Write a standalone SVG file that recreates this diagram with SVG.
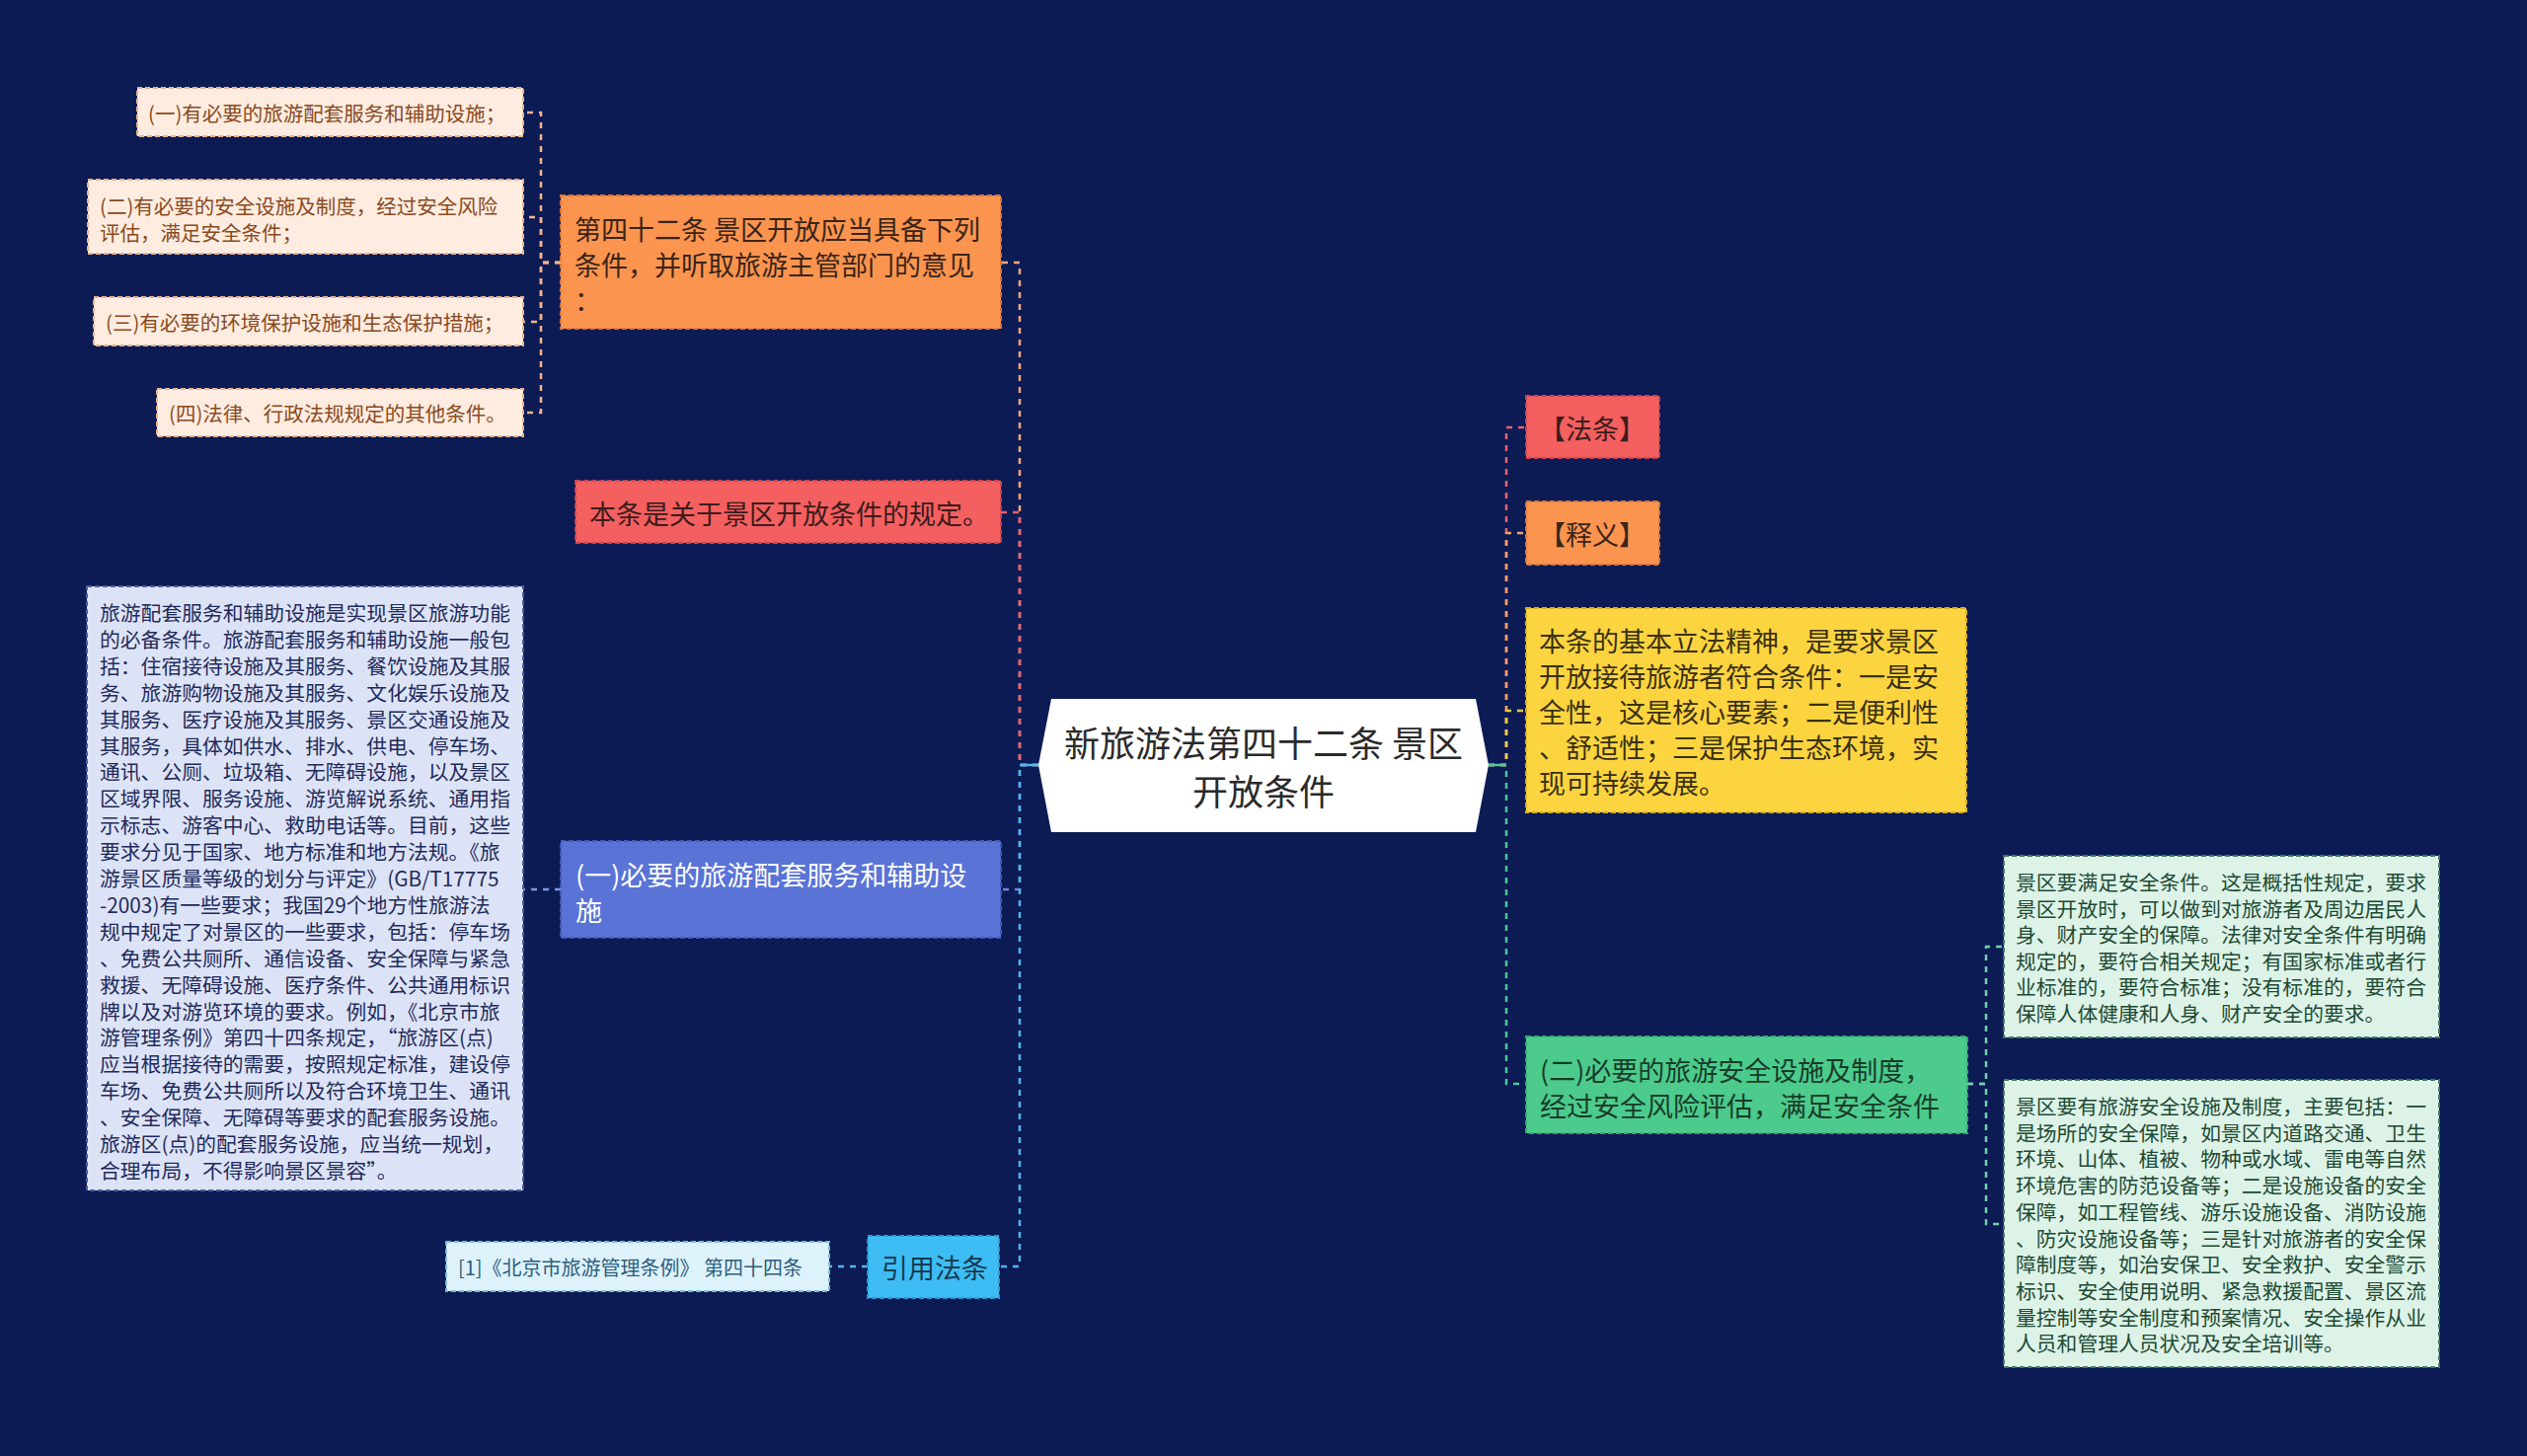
<svg xmlns="http://www.w3.org/2000/svg" width="2560" height="1475" viewBox="0 0 2560 1475">
<style>
text{font-family:"Noto Sans CJK SC","Noto Sans",sans-serif;dominant-baseline:central}
.c{fill:none;stroke-width:2.5;stroke-dasharray:6 6}
.s{fill:none;stroke-width:2.5}
.nb{stroke-width:2;stroke-dasharray:5 3}
.l1{font-size:27px}
.sm{font-size:20.5px}
.bg{font-size:20.8px}
</style>
<rect width="2560" height="1475" fill="#0D1B54"/>
<g id="connectors">
<path class="c" stroke="#F3A77A" d="M1052,775 H1033 V266 H1014"/>
<path class="c" stroke="#E86272" d="M1052,775 H1033 V519 H1014"/>
<path class="c" stroke="#6F86DE" d="M1052,775 H1033 V901 H1014"/>
<path class="c" stroke="#4FB7EC" d="M1052,775 H1033 V1283 H1012"/>
<path class="s" stroke="#4FB7EC" d="M1052,775 H1033"/>
<path class="c" stroke="#E86272" d="M1508,775 H1526 V433 H1546"/>
<path class="c" stroke="#F3A06A" d="M1508,775 H1526 V540 H1546"/>
<path class="c" stroke="#EBCB48" d="M1508,775 H1526 V720 H1546"/>
<path class="c" stroke="#4CC79A" d="M1508,775 H1526 V1098 H1546"/>
<path class="s" stroke="#4CC79A" d="M1508,775 H1526"/>
<path class="c" stroke="#F2B48C" d="M568,266 H548 V114 H530"/>
<path class="c" stroke="#F2B48C" d="M568,266 H548 V220 H530"/>
<path class="c" stroke="#F2B48C" d="M568,266 H548 V326 H530"/>
<path class="c" stroke="#F2B48C" d="M568,266 H548 V418 H530"/>
<path class="c" stroke="#7C9BE3" d="M568,901 H530"/>
<path class="c" stroke="#5AB6EA" d="M879,1283 H840"/>
<path class="c" stroke="#72D1AC" d="M1993,1098 H2012 V959 H2030"/>
<path class="c" stroke="#72D1AC" d="M1993,1098 H2012 V1240 H2030"/>
</g>
<g id="center">
<polygon points="1052,775 1065,708 1495,708 1508,775 1495,843 1065,843" fill="#FFFFFF"/>
<text x="1280" y="751" font-size="36" fill="#2A2A2A" text-anchor="middle">新旅游法第四十二条 景区</text>
<text x="1280" y="800" font-size="36" fill="#2A2A2A" text-anchor="middle">开放条件</text>
</g>
<g id="n-art42">
<rect x="568" y="198" width="446" height="135" fill="#FA944F" stroke="#D9773A" class="nb"/>
<text class="l1" fill="#3A2418" x="582" y="231">第四十二条 景区开放应当具备下列</text>
<text class="l1" fill="#3A2418" x="582" y="267">条件，并听取旅游主管部门的意见</text>
<text class="l1" fill="#3A2418" x="582" y="303">：</text>
</g>
<g id="n-c1">
<rect x="139" y="89" width="391" height="49" fill="#FDECDF" stroke="#E8B390" class="nb"/>
<text class="sm" fill="#8A4A22" x="150" y="114">(一)有必要的旅游配套服务和辅助设施；</text>
</g>
<g id="n-c2">
<rect x="89" y="182" width="441" height="75" fill="#FDECDF" stroke="#E8B390" class="nb"/>
<text class="sm" fill="#8A4A22" x="101" y="208">(二)有必要的安全设施及制度，经过安全风险</text>
<text class="sm" fill="#8A4A22" x="101" y="235">评估，满足安全条件；</text>
</g>
<g id="n-c3">
<rect x="95" y="301" width="435" height="49" fill="#FDECDF" stroke="#E8B390" class="nb"/>
<text class="sm" fill="#8A4A22" x="107" y="326">(三)有必要的环境保护设施和生态保护措施；</text>
</g>
<g id="n-c4">
<rect x="159" y="394" width="371" height="48" fill="#FDECDF" stroke="#E8B390" class="nb"/>
<text class="sm" fill="#8A4A22" x="171" y="418">(四)法律、行政法规规定的其他条件。</text>
</g>
<g id="n-summary">
<rect x="583" y="487" width="431" height="63" fill="#F45F5F" stroke="#C84450" class="nb"/>
<text class="l1" fill="#3A1C1C" x="597" y="519">本条是关于景区开放条件的规定。</text>
</g>
<g id="n-facilities">
<rect x="568" y="852" width="446" height="98" fill="#5A73D7" stroke="#4258B8" class="nb"/>
<text class="l1" fill="#FFFFFF" x="583" y="885">(一)必要的旅游配套服务和辅助设</text>
<text class="l1" fill="#FFFFFF" x="583" y="921">施</text>
</g>
<g id="n-facilities-text">
<rect x="88" y="594" width="442" height="612" fill="#DDE3F6" stroke="#4A5C9E" class="nb"/>
<g class="bg" fill="#1F2B5C">
<text x="101" y="620">旅游配套服务和辅助设施是实现景区旅游功能</text>
<text x="101" y="646.9">的必备条件。旅游配套服务和辅助设施一般包</text>
<text x="101" y="673.8">括：住宿接待设施及其服务、餐饮设施及其服</text>
<text x="101" y="700.7">务、旅游购物设施及其服务、文化娱乐设施及</text>
<text x="101" y="727.6">其服务、医疗设施及其服务、景区交通设施及</text>
<text x="101" y="754.5">其服务，具体如供水、排水、供电、停车场、</text>
<text x="101" y="781.4">通讯、公厕、垃圾箱、无障碍设施，以及景区</text>
<text x="101" y="808.3">区域界限、服务设施、游览解说系统、通用指</text>
<text x="101" y="835.2">示标志、游客中心、救助电话等。目前，这些</text>
<text x="101" y="862.1">要求分见于国家、地方标准和地方法规。《旅</text>
<text x="101" y="889">游景区质量等级的划分与评定》(GB/T17775</text>
<text x="101" y="915.9">-2003)有一些要求；我国29个地方性旅游法</text>
<text x="101" y="942.8">规中规定了对景区的一些要求，包括：停车场</text>
<text x="101" y="969.7">、免费公共厕所、通信设备、安全保障与紧急</text>
<text x="101" y="996.6">救援、无障碍设施、医疗条件、公共通用标识</text>
<text x="101" y="1023.5">牌以及对游览环境的要求。例如，《北京市旅</text>
<text x="101" y="1050.4">游管理条例》第四十四条规定，“旅游区(点)</text>
<text x="101" y="1077.3">应当根据接待的需要，按照规定标准，建设停</text>
<text x="101" y="1104.2">车场、免费公共厕所以及符合环境卫生、通讯</text>
<text x="101" y="1131.1">、安全保障、无障碍等要求的配套服务设施。</text>
<text x="101" y="1158">旅游区(点)的配套服务设施，应当统一规划，</text>
<text x="101" y="1184.9">合理布局，不得影响景区景容”。</text>
</g>
</g>
<g id="n-cite">
<rect x="879" y="1252" width="133" height="63" fill="#3DBDF3" stroke="#2A9BD0" class="nb"/>
<text class="l1" fill="#163A50" x="893" y="1283">引用法条</text>
</g>
<g id="n-cite-ref">
<rect x="452" y="1258" width="388" height="50" fill="#DDF2FB" stroke="#7CB8D8" class="nb"/>
<text font-size="20" fill="#2E5E80" x="464" y="1283">[1]《北京市旅游管理条例》 第四十四条</text>
</g>
<g id="n-fatiao">
<rect x="1546" y="401" width="135" height="63" fill="#F45F5F" stroke="#C84450" class="nb"/>
<text class="l1" fill="#3A1C1C" x="1559" y="433">【法条】</text>
</g>
<g id="n-shiyi">
<rect x="1546" y="508" width="135" height="64" fill="#FA944F" stroke="#D9773A" class="nb"/>
<text class="l1" fill="#3A2418" x="1559" y="540">【释义】</text>
</g>
<g id="n-spirit">
<rect x="1546" y="616" width="446" height="207" fill="#FCD440" stroke="#D8B020" class="nb"/>
<g class="l1" fill="#3A3010">
<text x="1559" y="648">本条的基本立法精神，是要求景区</text>
<text x="1559" y="684">开放接待旅游者符合条件：一是安</text>
<text x="1559" y="720">全性，这是核心要素；二是便利性</text>
<text x="1559" y="756">、舒适性；三是保护生态环境，实</text>
<text x="1559" y="792">现可持续发展。</text>
</g>
</g>
<g id="n-safety">
<rect x="1546" y="1050" width="447" height="98" fill="#4CCB8C" stroke="#34A870" class="nb"/>
<text class="l1" fill="#173C2A" x="1560" y="1083">(二)必要的旅游安全设施及制度，</text>
<text class="l1" fill="#173C2A" x="1560" y="1119">经过安全风险评估，满足安全条件</text>
</g>
<g id="n-safety-t1">
<rect x="2030" y="867" width="441" height="184" fill="#DDF3E8" stroke="#3E7A5E" class="nb"/>
<g class="bg" fill="#1E4A33">
<text x="2042" y="893">景区要满足安全条件。这是概括性规定，要求</text>
<text x="2042" y="919.6">景区开放时，可以做到对旅游者及周边居民人</text>
<text x="2042" y="946.2">身、财产安全的保障。法律对安全条件有明确</text>
<text x="2042" y="972.8">规定的，要符合相关规定；有国家标准或者行</text>
<text x="2042" y="999.4">业标准的，要符合标准；没有标准的，要符合</text>
<text x="2042" y="1026">保障人体健康和人身、财产安全的要求。</text>
</g>
</g>
<g id="n-safety-t2">
<rect x="2030" y="1094" width="441" height="291" fill="#DDF3E8" stroke="#3E7A5E" class="nb"/>
<g class="bg" fill="#1E4A33">
<text x="2042" y="1120">景区要有旅游安全设施及制度，主要包括：一</text>
<text x="2042" y="1146.7">是场所的安全保障，如景区内道路交通、卫生</text>
<text x="2042" y="1173.4">环境、山体、植被、物种或水域、雷电等自然</text>
<text x="2042" y="1200.1">环境危害的防范设备等；二是设施设备的安全</text>
<text x="2042" y="1226.8">保障，如工程管线、游乐设施设备、消防设施</text>
<text x="2042" y="1253.5">、防灾设施设备等；三是针对旅游者的安全保</text>
<text x="2042" y="1280.2">障制度等，如治安保卫、安全救护、安全警示</text>
<text x="2042" y="1306.9">标识、安全使用说明、紧急救援配置、景区流</text>
<text x="2042" y="1333.6">量控制等安全制度和预案情况、安全操作从业</text>
<text x="2042" y="1360.3">人员和管理人员状况及安全培训等。</text>
</g>
</g>
</svg>
